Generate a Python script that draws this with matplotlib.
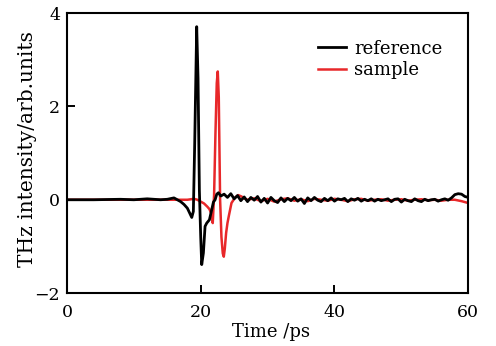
import matplotlib
matplotlib.use("Agg")
import matplotlib.pyplot as plt

# reference signal
t_ref = [0, 4, 8, 10, 12, 14, 15, 16, 16.5, 17, 17.5, 18, 18.3, 18.66, 18.9, 19.1, 19.4, 19.6, 19.8,
         20.0, 20.15, 20.4, 20.65, 20.9, 21.3, 21.65, 21.9, 22.15, 22.4, 22.65, 23.0,
         23.5, 24, 24.5, 25, 25.5, 26, 26.5, 27, 27.5, 28, 28.5, 29, 29.5, 30, 30.5, 31, 31.5, 32,
         32.5, 33, 33.5, 34, 34.5, 35, 35.5, 36, 36.5, 37, 37.5, 38, 38.5, 39, 39.5, 40, 40.5, 41,
         41.5, 42, 42.5, 43, 43.5, 44, 44.5, 45, 45.5, 46, 46.5, 47, 47.5, 48, 48.5, 49, 49.5, 50,
         50.5, 51, 51.5, 52, 52.5, 53, 53.5, 54, 54.5, 55, 55.5, 56, 56.5, 57, 57.5, 58, 58.5, 59,
         59.5, 60]
v_ref = [0, 0, 0.01, 0, 0.02, 0, 0.01, 0.04, 0, -0.04, -0.1, -0.18, -0.27, -0.38, -0.25, 1.2, 3.71, 2.6, 0.2,
         -0.8, -1.39, -1.14, -0.57, -0.5, -0.43, -0.21, -0.05, 0.0, 0.12, 0.15, 0.08,
         0.12, 0.05, 0.13, 0.02, 0.09, -0.02, 0.06, -0.04, 0.05, -0.01, 0.07, -0.05, 0.03, -0.07, 0.05, -0.02, -0.06, 0.04,
         -0.04, 0.03, -0.02, 0.05, -0.03, 0.02, -0.08, 0.04, -0.02, 0.05, -0.01, -0.04, 0.03, -0.02, 0.04, -0.03, 0.02, 0.0,
         0.03, -0.04, 0.02, -0.01, 0.03, -0.03, 0.01, -0.02, 0.02, -0.03, 0.01, -0.02, 0.0, 0.02, -0.04, 0.01, 0.02, -0.05,
         0.01, -0.02, -0.04, 0.02, -0.02, -0.04, 0.01, -0.02, 0.0, 0.01, -0.03, 0.0, 0.02, -0.01, 0.04, 0.11, 0.13, 0.12,
         0.07, 0.05]

# sample signal
t_smp = [0, 5, 10, 15, 18, 19, 19.5, 20, 20.5, 21, 21.3, 21.6, 21.8, 22.0, 22.2, 22.4, 22.55, 22.7, 22.9,
         23.1, 23.3, 23.45, 23.6, 23.8, 24.0, 24.2, 24.6, 25.1, 25.6, 26.1, 26.5, 27, 28, 29, 30, 31, 32, 33,
         34, 35, 36, 37, 38, 39, 40, 41, 42, 43, 44, 45, 46, 47, 48, 49, 50, 51, 52, 53, 54, 55, 56, 57,
         58, 59, 60]
v_smp = [0, 0, 0, 0, 0, 0.02, 0, -0.04, -0.08, -0.15, -0.2, -0.3, -0.5, 0.1, 1.4, 2.5, 2.75, 2.2, 0.0,
         -0.8, -1.15, -1.22, -1.05, -0.71, -0.5, -0.35, -0.07, 0.04, 0.1, 0.07, 0.03, 0.0, 0.03, -0.03, 0.02, -0.04, 0.01, 0.03,
         -0.02, 0.01, -0.03, 0.02, 0.0, -0.02, 0.02, 0.0, -0.03, 0.01, 0.02, -0.02, 0.0, 0.01, -0.02, 0.0, 0.01, -0.02, 0.0, 0.01,
         -0.01, 0.0, -0.02, 0.0, 0.0, -0.03, -0.07]

plt.rcParams['font.family'] = ['DejaVu Serif']
plt.rcParams['axes.unicode_minus'] = True

fig = plt.figure(figsize=(4.96, 3.46), dpi=100)
ax = fig.add_axes([0.135, 0.153, 0.809, 0.809])

ax.plot(t_smp, v_smp, color='#e8282a', lw=1.8, label='sample', zorder=2)
ax.plot(t_ref, v_ref, color='black', lw=2.0, label='reference', zorder=3)

ax.set_xlim(0, 60)
ax.set_ylim(-2, 4)
ax.set_xticks([0, 20, 40, 60])
ax.set_yticks([-2, 0, 2, 4])
ax.tick_params(direction='in', length=6, width=1.4, labelsize=12.5, top=False, right=False)
ax.tick_params(axis='x', pad=8)
ax.tick_params(axis='y', pad=5)
for s in ax.spines.values():
    s.set_linewidth(1.5)

ax.set_xlabel('Time /ps', fontsize=13)
ax.xaxis.set_label_coords(0.509, -0.108)
ax.set_ylabel('THz intensity/arb.units', fontsize=14.5)
ax.yaxis.set_label_coords(-0.075, 0.516)

h, l = ax.get_legend_handles_labels()
ax.legend([h[1], h[0]], [l[1], l[0]], loc='upper right', frameon=False, fontsize=13,
          handlelength=1.55, handletextpad=0.45, labelspacing=0.2, borderpad=0, borderaxespad=0,
          bbox_to_anchor=(0.935, 0.905))

fig.savefig('out.png', dpi=100)
